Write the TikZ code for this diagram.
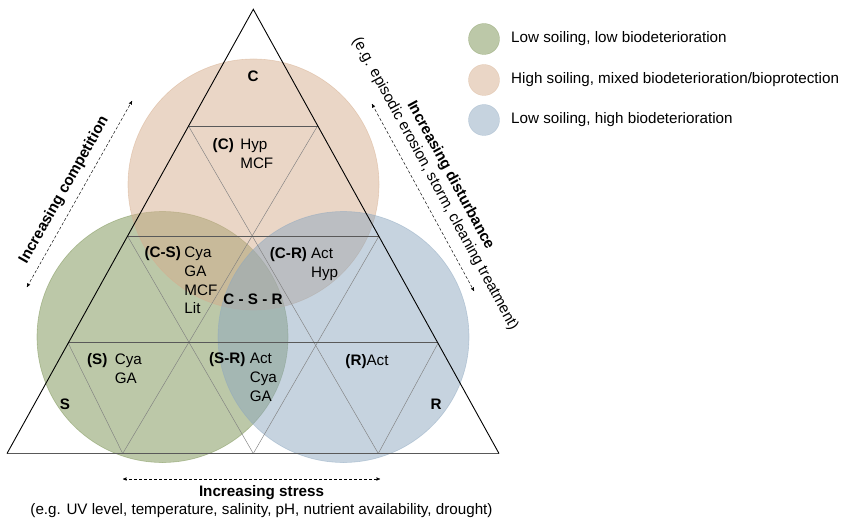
\documentclass[tikz,border=0pt]{standalone}
\usepackage{fontspec}
\setmainfont{Liberation Sans}
\usepackage{tikz}
\usetikzlibrary{arrows,positioning}

\definecolor{soilgreen}{RGB}{121,145,81}
\definecolor{soilorange}{RGB}{213,173,141}
\definecolor{soilblue}{RGB}{141,167,191}

\newcommand{\figfont}{\fontsize{15.2}{17.5}\selectfont}
\newcommand{\grouplabel}[3]{\begin{tabular}{@{}l@{\hspace{#2}}l@{}}\textbf{#1} & #3\end{tabular}}

\tikzset{
  zone/.style={opacity=0.5, line width=0.6pt},
  frame/.style={black, line width=0.9pt},
  level/.style={black!65, line width=0.8pt},
  gridline/.style={black!50, line width=0.45pt},
  trend/.style={<->, densely dashed, line width=0.45pt},
  tag/.style={font=\figfont\bfseries},
  taxa/.style={inner sep=0pt, font=\fontsize{15.2}{18.8}\selectfont},
  key/.style={circle, minimum size=31pt, inner sep=0pt, opacity=0.5},
}

\begin{document}
\begin{tikzpicture}
[x=1pt,y=-1pt,>=stealth',font=\figfont]
  \useasboundingbox (0,0) rectangle (846,524);
%
  \filldraw[zone, fill=soilgreen, draw=soilgreen] (162.5,337) circle (125.5);
  \filldraw[zone, fill=soilorange, draw=soilorange] (253.5,184.5) circle (125.5);
  \filldraw[zone, fill=soilblue, draw=soilblue] (343.5,337) circle (125.5);
%
  \coordinate (T) at (253.3,9.3);
  \coordinate (p10) at (188.5,126);
  \coordinate (p11) at (317.5,126);
  \coordinate (p20) at (127.5,236);
  \coordinate (p21) at (253,236);
  \coordinate (p22) at (379,236);
  \coordinate (p30) at (68,342.7);
  \coordinate (p31) at (188.3,342.7);
  \coordinate (p32) at (316,342.7);
  \coordinate (p33) at (438.3,342.7);
  \coordinate (p40) at (7,453.5);
  \coordinate (p41) at (122.7,453.5);
  \coordinate (p42) at (253.3,453.5);
  \coordinate (p43) at (378.3,453.5);
  \coordinate (p44) at (499,453.5);
%
  \draw[gridline] (p10) -- (p43);
  \draw[gridline] (p11) -- (p41);
  \draw[gridline] (p20) -- (p42);
  \draw[gridline] (p22) -- (p42);
  \draw[gridline] (p30) -- (p41);
  \draw[gridline] (p33) -- (p43);
  \draw[level] (p10) -- (p11);
  \draw[level] (p20) -- (p22);
  \draw[level] (p30) -- (p33);
  \draw[level, line width=1.2pt] (p40) -- (p44);
  \draw[frame] (p40) -- (T) -- (p44);
%
  \node[tag] (c) at (253,76) {C};
  \node[tag] (s) at (65,404) {S};
  \node[tag] (r) at (436,404) {R};
  \node[tag] (csr) at (253,299) {C - S - R};
  \node[taxa] (gc) at (243,155) {\grouplabel{(C)}{6.5pt}{Hyp\\ & MCF}};
  \node[taxa] (gcs) at (181,282) {\grouplabel{(C-S)}{3.5pt}{Cya\\ & GA\\ & MCF\\ & Lit}};
  \node[taxa] (gcr) at (304,264) {\grouplabel{(C-R)}{4pt}{Act\\ & Hyp}};
  \node[taxa] (gs) at (114.5,370) {\grouplabel{(S)}{7.5pt}{Cya\\ & GA}};
  \node[taxa] (gsr) at (243,379) {\grouplabel{(S-R)}{4.5pt}{Act\\ & Cya\\ & GA}};
  \node (gr) at (367,361.3) {\textbf{(R)}Act};
%
  \coordinate (compA) at (27,287);
  \coordinate (compB) at (132,101);
  \draw[trend] (compA) -- (compB)
    node[pos=0.48, sloped, above=4.5pt, tag] (comp) {Increasing competition};
  \coordinate (distA) at (372,104);
  \coordinate (distB) at (474,291);
  \draw[trend] (distA) -- (distB)
    node[pos=0.47, sloped, above=6.5pt, align=center] (dist)
    {\textbf{Increasing disturbance}\\(e.g. episodic erosion, storm, cleaning treatment)};
  \coordinate (stressA) at (123,479);
  \coordinate (stressB) at (380,479);
  \draw[trend] (stressA) -- (stressB)
    node[pos=0.539, below=3.2pt, align=center] (stress)
    {\textbf{Increasing stress}\\(e.g. UV level, temperature, salinity, pH, nutrient availability, drought)};
%
  \node[key, fill=soilgreen, draw=soilgreen] (k1) at (484,39) {};
  \node[key, fill=soilorange, draw=soilorange] (k2) at (484,80) {};
  \node[key, fill=soilblue, draw=soilblue] (k3) at (484,120) {};
  \node[right=8pt of k1] (k1t) {Low soiling, low biodeterioration};
  \node[right=8pt of k2] (k2t) {High soiling, mixed biodeterioration/bioprotection};
  \node[right=8pt of k3] (k3t) {Low soiling, high biodeterioration};
\end{tikzpicture}
\end{document}
